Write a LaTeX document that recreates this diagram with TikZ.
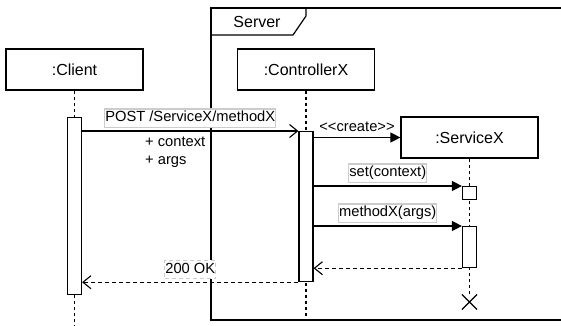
\documentclass[tikz,border=0pt]{standalone}
\usepackage{fontspec}
\setmainfont{Liberation Sans}
\usetikzlibrary{arrows.meta,shapes.misc,positioning}
\tikzset{
     obj/.style = {draw, line width=1.2pt, minimum width=137pt, minimum height=41pt,
                   font=\fontsize{16}{19}\selectfont},
     lifeline/.style = {line width=1.1pt, dash pattern=on 3pt off 3pt},
     actbar/.style = {draw, fill=white, line width=1.2pt, minimum width=14pt, inner sep=0pt},
     callmsg/.style = {line width=1.1pt, -{Triangle[length=10pt,width=10pt]}},
     asyncmsg/.style = {line width=1.1pt, -{Straight Barb[length=8pt,width=13pt]}},
     replymsg/.style = {line width=1.1pt, dash pattern=on 4pt off 3pt,
                        -{Straight Barb[length=8pt,width=13pt]}},
     msglabel/.style = {draw=black!20, fill=white, inner xsep=0.5pt, inner ysep=2pt,
                        text height=11pt, text depth=3.5pt, font=\fontsize{14.7}{17}\selectfont},
     note/.style = {inner sep=0pt, font=\fontsize{14.7}{17}\selectfont},
    }

\begin{document}
\begin{tikzpicture}[x=1pt, y=-1pt]
      \useasboundingbox (0,0) rectangle (561,325);

      % server frame
      \draw[line width=1.5pt] (566,8) -- (211,8) -- (211,320) -- (566,320);
      \draw[line width=1.2pt] (211,35) -- (293,35) -- (306,16) -- (306,8);
      \node [note, font=\fontsize{16}{19}\selectfont] (server) at (257,22) {Server};

      % objects
      \node [obj] (client) at (74.5,69.5)  {:Client};
      \node [obj] (ctrl)   at (306,69.5)   {:ControllerX};
      \node [obj] (svc)    at (469.5,137.5) {:ServiceX};

      \coordinate (client end) at (74.5,325);
      \coordinate (ctrl end)   at (306,320);
      \node [draw, cross out, line width=1.1pt, minimum size=14pt, inner sep=0pt] (kill) at (469.5,302) {};

      % lifelines
      \draw[lifeline] (client) -- (client end);
      \draw[lifeline] (ctrl) -- (ctrl end);
      \draw[lifeline] (svc) -- (kill);

      % activations
      \node [actbar, anchor=north, minimum height=177pt] (clientbar) at (74.5,117) {};
      \node [actbar, anchor=north, minimum height=150pt] (ctrlbar)   at (306,131)  {};
      \node [actbar, anchor=north, minimum height=13pt]  (setbar)    at (469.5,186) {};
      \node [actbar, anchor=north, minimum height=41pt]  (runbar)    at (469.5,226) {};

      % messages
      \draw[asyncmsg] (clientbar.east |- ctrlbar.north west) -- (ctrlbar.north west)
            node [msglabel, midway, above=3pt] {POST /ServiceX/methodX};
      \node [note, anchor=west] (ctx)  at (145,142) {+ context};
      \node [note, anchor=west] (args) at (145,162) {+ args};

      \draw[callmsg] (ctrlbar.east |- svc.west) -- (svc.west)
            node [note, midway, above=5pt] {<\kern0pt<create>\kern0pt>};
      \draw[callmsg] (ctrlbar.east |- setbar.north west) -- (setbar.north west)
            node [msglabel, midway, above=3pt] {set(context)};
      \draw[callmsg] (ctrlbar.east |- runbar.north west) -- (runbar.north west)
            node [msglabel, midway, above=3pt] {methodX(args)};
      \draw[replymsg] (runbar.south west) -- (ctrlbar.east |- runbar.south west);
      \draw[replymsg] (ctrlbar.south west) -- (clientbar.east |- ctrlbar.south west)
            node [msglabel, midway, above=3pt] {200 OK};
\end{tikzpicture}
\end{document}
